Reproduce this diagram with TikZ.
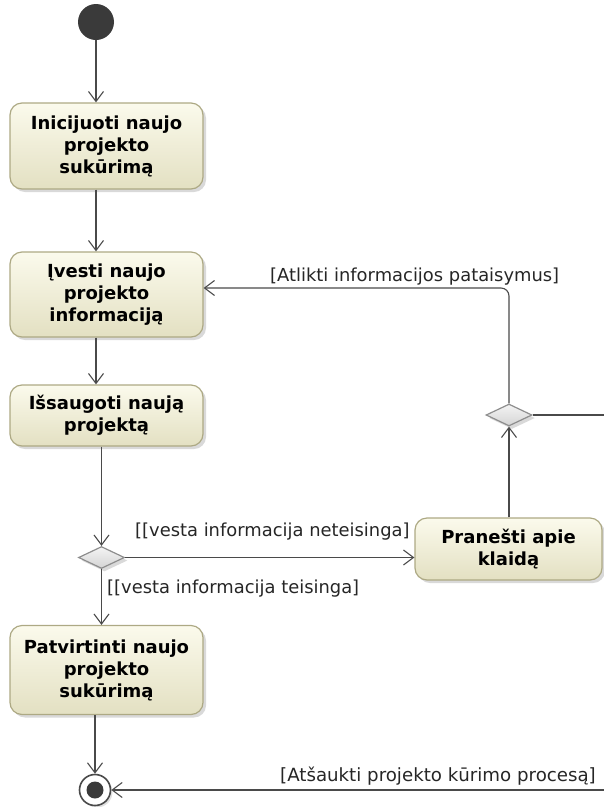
\documentclass[tikz,border=0pt]{standalone}
\usepackage{fontspec}
\setmainfont{DejaVu Sans}
\usetikzlibrary{arrows.meta,shapes.geometric,shadows}

\definecolor{actfillA}{HTML}{FBFAEC}
\definecolor{actfillB}{HTML}{E3E0C2}
\definecolor{actborder}{HTML}{ADA984}
\definecolor{flow}{HTML}{4A4A4A}
\definecolor{decfillA}{HTML}{F4F4F4}
\definecolor{decfillB}{HTML}{D4D4D4}
\definecolor{decborder}{HTML}{8E8E8E}
\definecolor{startfill}{HTML}{3A3A3A}

\tikzset{
  action/.style={rectangle, rounded corners=12pt, draw=actborder, line width=1.2pt,
    top color=actfillA, bottom color=actfillB, inner sep=2pt,
    align=center, font=\bfseries\fontsize{18}{22}\selectfont,
    drop shadow={shadow xshift=3pt, shadow yshift=-3pt, opacity=0.25, fill=black!60}},
  decision/.style={diamond, draw=decborder, line width=1.2pt, inner sep=0pt,
    top color=decfillA, bottom color=decfillB,
    minimum width=46pt, minimum height=22pt, aspect=2.1,
    drop shadow={shadow xshift=3pt, shadow yshift=-3pt, opacity=0.25, fill=black!60}},
  guard/.style={font=\fontsize{17.9}{21}\selectfont, text=black!85, inner sep=0pt},
  flowline/.style={draw=flow, line width=1.1pt},
  arr/.style={flowline, -{Straight Barb[length=10pt,width=15pt,line width=1.1pt]}},
}

\begin{document}
\begin{tikzpicture}[x=1pt, y=-1pt]
\useasboundingbox (0,0) rectangle (604,807);

% initial and final nodes
\node[circle, fill=startfill, minimum size=36pt, inner sep=0pt] (init) at (96,22) {};
\node[circle, draw=flow, line width=1.6pt, fill=white, minimum size=31pt, inner sep=0pt,
      drop shadow={shadow xshift=2pt, shadow yshift=-2pt, opacity=0.2, fill=black!60}] (fin) at (95,790) {};
\node[circle, fill=startfill, minimum size=17pt, inner sep=0pt] (fincore) at (fin) {};

% actions
\node[action, minimum width=193pt, minimum height=86pt] (b1) at (106.5,146)
  {Inicijuoti naujo\\projekto\\sukūrimą};
\node[action, minimum width=193pt, minimum height=85pt] (b2) at (106.5,294.5)
  {Įvesti naujo\\projekto\\informaciją};
\node[action, minimum width=193pt, minimum height=61pt] (b3) at (106.5,415.5)
  {Išsaugoti naują\\projektą};
\node[action, minimum width=193pt, minimum height=89pt] (b4) at (106.5,670)
  {Patvirtinti naujo\\projekto\\sukūrimą};
\node[action, minimum width=187pt, minimum height=62pt] (b5) at (508.5,549)
  {Pranešti apie\\klaidą};

% decisions
\node[decision] (d1) at (101.5,557.5) {};
\node[decision] (d2) at (509,415) {};

% flows leaving the drawing area
\coordinate (exitA) at (604,415);
\coordinate (exitB) at (604,790);

% control flows
\draw[arr] (init) -- (init |- b1.north);
\draw[arr] (b1.south -| init) -- (b2.north -| init);
\draw[arr] (b2.south -| init) -- (b3.north -| init);
\draw[arr] (b3.south -| d1) -- (d1.north);
\draw[arr] (d1.east) -- (d1.east -| b5.west);
\draw[arr] (d1.south) -- (d1.south |- b4.north);
\draw[arr] (b5.north -| d2) -- (d2.south);
\draw[arr, rounded corners=8pt] (d2.north) |- ([yshift=6.5pt]b2.east);
\draw[flowline] (d2.east) -- (exitA);
\draw[arr] (b4.south -| fin) -- (fin.north);
\draw[arr] (exitB) -- (fin.east);

% guards
\node[guard, anchor=base west] (gA) at (270,281) {[Atlikti informacijos pataisymus]};
\node[guard, anchor=base west] (gB) at (135,536) {[[vesta informacija neteisinga]};
\node[guard, anchor=base west] (gC) at (107,593) {[[vesta informacija teisinga]};
\node[guard, anchor=base east, font=\fontsize{18.2}{21}\selectfont] (gD) at (596,781) {[Atšaukti projekto kūrimo procesą]};
\end{tikzpicture}
\end{document}
